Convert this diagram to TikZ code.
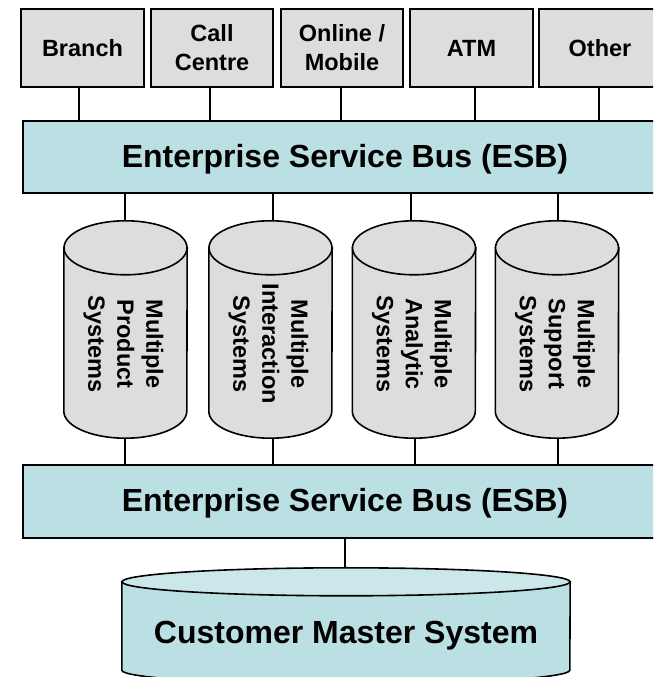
\documentclass[tikz,border=0pt]{standalone}
\usepackage{fontspec}
\setmainfont{Liberation Sans}
\usetikzlibrary{calc}
\definecolor{boxgray}{HTML}{DDDDDD}
\definecolor{esbteal}{HTML}{BBE0E3}
\definecolor{cmtop}{HTML}{CBE7EA}
\begin{document}
\begin{tikzpicture}[x=1pt,y=1pt,
 chan/.style={draw=black, line width=1.6pt, fill=boxgray, minimum width=122pt, minimum height=78pt, inner sep=0pt, align=center, font=\fontsize{23.5}{29}\selectfont\bfseries},
 esb/.style={draw=black, line width=1.6pt, fill=esbteal, minimum width=644pt, minimum height=72pt, inner sep=0pt},
 esbtext/.style={font=\fontsize{32}{38}\selectfont\bfseries},
 cylspace/.style={minimum width=123pt, minimum height=217pt, inner sep=0pt},
 cyltext/.style={rotate=-90, align=center, font=\fontsize{23.5}{29}\selectfont\bfseries},
 cmtext/.style={font=\fontsize{32}{38}\selectfont\bfseries},
 link/.style={line width=1.6pt},
 cylline/.style={line width=1.6pt},
]
\useasboundingbox (0,0) rectangle (653,677);
\clip (0,0) rectangle (653,677);

% channel boxes
\node[chan, minimum width=123pt] (branch) at (82.5,629) {Branch};
\node[chan] (call) at (212,629) {Call\\Centre};
\node[chan] (online) at (342,629) {Online /\\Mobile};
\node[chan, minimum width=123pt] (atm) at (471.5,629) {ATM};
\node[chan] (other) at (600,629) {Other};

% buses
\node[esb] (esb1) at (345,520) {};
\node[esbtext] (esb1t) at (345,517.5) {Enterprise Service Bus (ESB)};
\node[esb, minimum height=73pt] (esb2) at (345,175.5) {};
\node[esbtext] (esb2t) at (345,174) {Enterprise Service Bus (ESB)};

% cylinder placeholders
\node[cylspace] (c1) at (125.5,347.5) {};
\node[cylspace] (c2) at (270.5,347.5) {};
\node[cylspace] (c3) at (414,347.5) {};
\node[cylspace] (c4) at (557,347.5) {};
\node[minimum width=448pt, minimum height=116pt, inner sep=0pt] (cm) at (346,51) {};

\foreach \n/\rx/\ry/\bodyc/\topc in {c1/61.5/27/boxgray/boxgray, c2/61.5/27/boxgray/boxgray, c3/61.5/27/boxgray/boxgray, c4/61.5/27/boxgray/boxgray, cm/224/14/esbteal/cmtop}{
 \draw[cylline, fill=\bodyc] ([yshift=-\ry pt]\n.north west) -- ([yshift=\ry pt]\n.south west)
   arc[start angle=180, end angle=360, x radius=\rx pt, y radius=\ry pt]
   -- ([yshift=-\ry pt]\n.north east) -- cycle;
 \draw[cylline, fill=\topc] ([yshift=-\ry pt]\n.north) ellipse[x radius=\rx pt, y radius=\ry pt];
}

% cylinder texts
\node[cyltext] (t1) at ([xshift=-2pt,yshift=-14.5pt]c1.center) {Multiple\\Product\\Systems};
\node[cyltext] (t2) at ([xshift=-2pt,yshift=-14.5pt]c2.center) {Multiple\\Interaction\\Systems};
\node[cyltext] (t3) at ([xshift=-2pt,yshift=-14.5pt]c3.center) {Multiple\\Analytic\\Systems};
\node[cyltext] (t4) at ([xshift=-2pt,yshift=-14.5pt]c4.center) {Multiple\\Support\\Systems};
\node[cmtext] (tcm) at ([yshift=-10pt]cm.center) {Customer Master System};

% connectors: channels to ESB
\draw[link] ([xshift=-3.5pt]branch.south) -- ([xshift=-3.5pt]branch.south |- esb1.north);
\draw[link] ([xshift=-2pt]call.south) -- ([xshift=-2pt]call.south |- esb1.north);
\draw[link] ([xshift=-1pt]online.south) -- ([xshift=-1pt]online.south |- esb1.north);
\draw[link] ([xshift=3.5pt]atm.south) -- ([xshift=3.5pt]atm.south |- esb1.north);
\draw[link] ([xshift=-1pt]other.south) -- ([xshift=-1pt]other.south |- esb1.north);

% ESB1 to cylinders
\draw[link] ([xshift=-0.5pt]c1.north |- esb1.south) -- ([xshift=-0.5pt]c1.north);
\draw[link] ([xshift=2.5pt]c2.north |- esb1.south) -- ([xshift=2.5pt]c2.north);
\draw[link] ([xshift=-3pt]c3.north |- esb1.south) -- ([xshift=-3pt]c3.north);
\draw[link] ([xshift=1pt]c4.north |- esb1.south) -- ([xshift=1pt]c4.north);

% cylinders to ESB2
\draw[link] ([xshift=-0.5pt]c1.south) -- ([xshift=-0.5pt]c1.south |- esb2.north);
\draw[link] ([xshift=2.5pt]c2.south) -- ([xshift=2.5pt]c2.south |- esb2.north);
\draw[link] ([xshift=1pt]c3.south) -- ([xshift=1pt]c3.south |- esb2.north);
\draw[link] ([xshift=1pt]c4.south) -- ([xshift=1pt]c4.south |- esb2.north);

% ESB2 to customer master
\draw[link] (esb2.south) -- (esb2.south |- cm.north);
\end{tikzpicture}
\end{document}
